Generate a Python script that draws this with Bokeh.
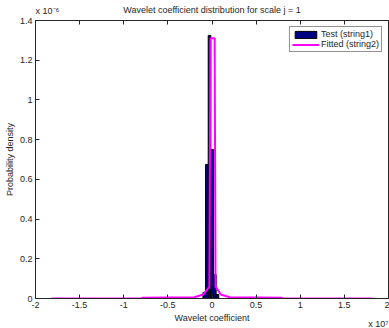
from bokeh.plotting import figure
from bokeh.models import Range1d, FixedTicker, LinearAxis, Legend, LegendItem, Title
from bokeh.embed import file_html
from bokeh.resources import INLINE

# Histogram (x in units of 1e7, density in units of 1e-6)
bin_centers = [-0.088, -0.058, -0.028, 0.002, 0.032, 0.062]
bin_heights = [0.03, 0.675, 1.325, 0.75, 0.12, 0.02]
bin_width = 0.03

# Fitted density
fit_x = [-1.82, -0.8, -0.79, -0.2, -0.1, -0.03, -0.018, 0.03, 0.04, 0.1, 0.2, 0.79, 0.8, 1.82]
fit_y = [0.0, 0.0, 0.004, 0.006, 0.02, 0.06, 1.31, 1.31, 0.06, 0.02, 0.006, 0.004, 0.0, 0.0]

x_ticks = [-2, -1.5, -1, -0.5, 0, 0.5, 1, 1.5, 2]
x_tick_labels = ["-2", "-1.5", "-1", "-0.5", "0", "0.5", "1", "1.5", "2"]
y_ticks = [0, 0.2, 0.4, 0.6, 0.8, 1.0, 1.2, 1.4]
y_tick_labels = ["0", "0.2", "0.4", "0.6", "0.8", "1", "1.2", "1.4"]

title_text = "Wavelet coefficient distribution for scale j = 1"
xlabel = "Wavelet coefficient"
ylabel = "Probability density"
y_exponent = "x 10\u207b\u2076"
x_exponent = "x 10\u2077"

FONT = "Liberation Sans"
TXT = "#262626"
FS = "9px"

p = figure(width=389, height=328, output_backend="svg", toolbar_location=None,
           x_range=Range1d(-2, 2), y_range=Range1d(0, 1.4),
           min_border_left=35, min_border_right=1, min_border_top=20, min_border_bottom=30)
p.background_fill_color = "white"
p.border_fill_color = "white"
p.grid.visible = False
p.outline_line_color = "#262626"
p.outline_line_width = 1

p.title.text = title_text
p.title.align = "center"
p.title.vertical_align = "bottom"
p.title.text_font = FONT
p.title.text_font_size = FS
p.title.text_font_style = "normal"
p.title.text_color = TXT
p.title.standoff = -23

bars = p.vbar(x=bin_centers, top=bin_heights, width=bin_width, bottom=0,
              fill_color="#000080", line_color="black", line_width=1)
line = p.line(fit_x, fit_y, line_color="#ff00ff", line_width=2)

for ax, ticks, labels in ((p.xaxis[0], x_ticks, x_tick_labels), (p.yaxis[0], y_ticks, y_tick_labels)):
    ax.ticker = FixedTicker(ticks=ticks)
    ax.major_label_overrides = {t: l for t, l in zip(ticks, labels)}
    ax.major_tick_in = 4
    ax.major_tick_out = 0
    ax.minor_tick_in = 0
    ax.minor_tick_out = 0
    ax.axis_line_color = "#262626"
    ax.major_tick_line_color = "#262626"
    ax.major_label_text_font = FONT
    ax.major_label_text_font_size = FS
    ax.major_label_text_color = TXT
    ax.major_label_standoff = 3
    ax.axis_label_text_font = FONT
    ax.axis_label_text_font_size = FS
    ax.axis_label_text_font_style = "normal"
    ax.axis_label_text_color = TXT
    ax.axis_label_standoff = 2

p.xaxis[0].axis_label = xlabel
p.yaxis[0].axis_label = ylabel

top_ax = LinearAxis(ticker=FixedTicker(ticks=x_ticks),
                    major_label_overrides={t: "" for t in x_ticks},
                    major_tick_in=4, major_tick_out=0, minor_tick_in=0, minor_tick_out=0,
                    major_label_standoff=0, axis_line_color="#262626", major_tick_line_color="#262626")
p.add_layout(top_ax, "above")

legend = Legend(items=[LegendItem(label="Test (string1)", renderers=[bars]),
                       LegendItem(label="Fitted (string2)", renderers=[line])],
                location="top_right", margin=6, padding=2, spacing=0,
                glyph_width=27, glyph_height=9, label_height=9, label_standoff=2,
                label_text_font=FONT, label_text_font_size=FS, label_text_color=TXT,
                border_line_color="#262626", border_line_width=1, background_fill_alpha=1)
p.add_layout(legend)

# scale exponents
p.add_layout(Title(text=y_exponent, align="left", vertical_align="top", text_font=FONT,
                   text_font_size=FS, text_font_style="normal", text_color=TXT, standoff=5), "above")
p.add_layout(Title(text=x_exponent, align="right", vertical_align="top", text_font=FONT,
                   text_font_size=FS, text_font_style="normal", text_color=TXT, standoff=-13), "below")

open("out.html", "w").write(file_html(p, INLINE))
